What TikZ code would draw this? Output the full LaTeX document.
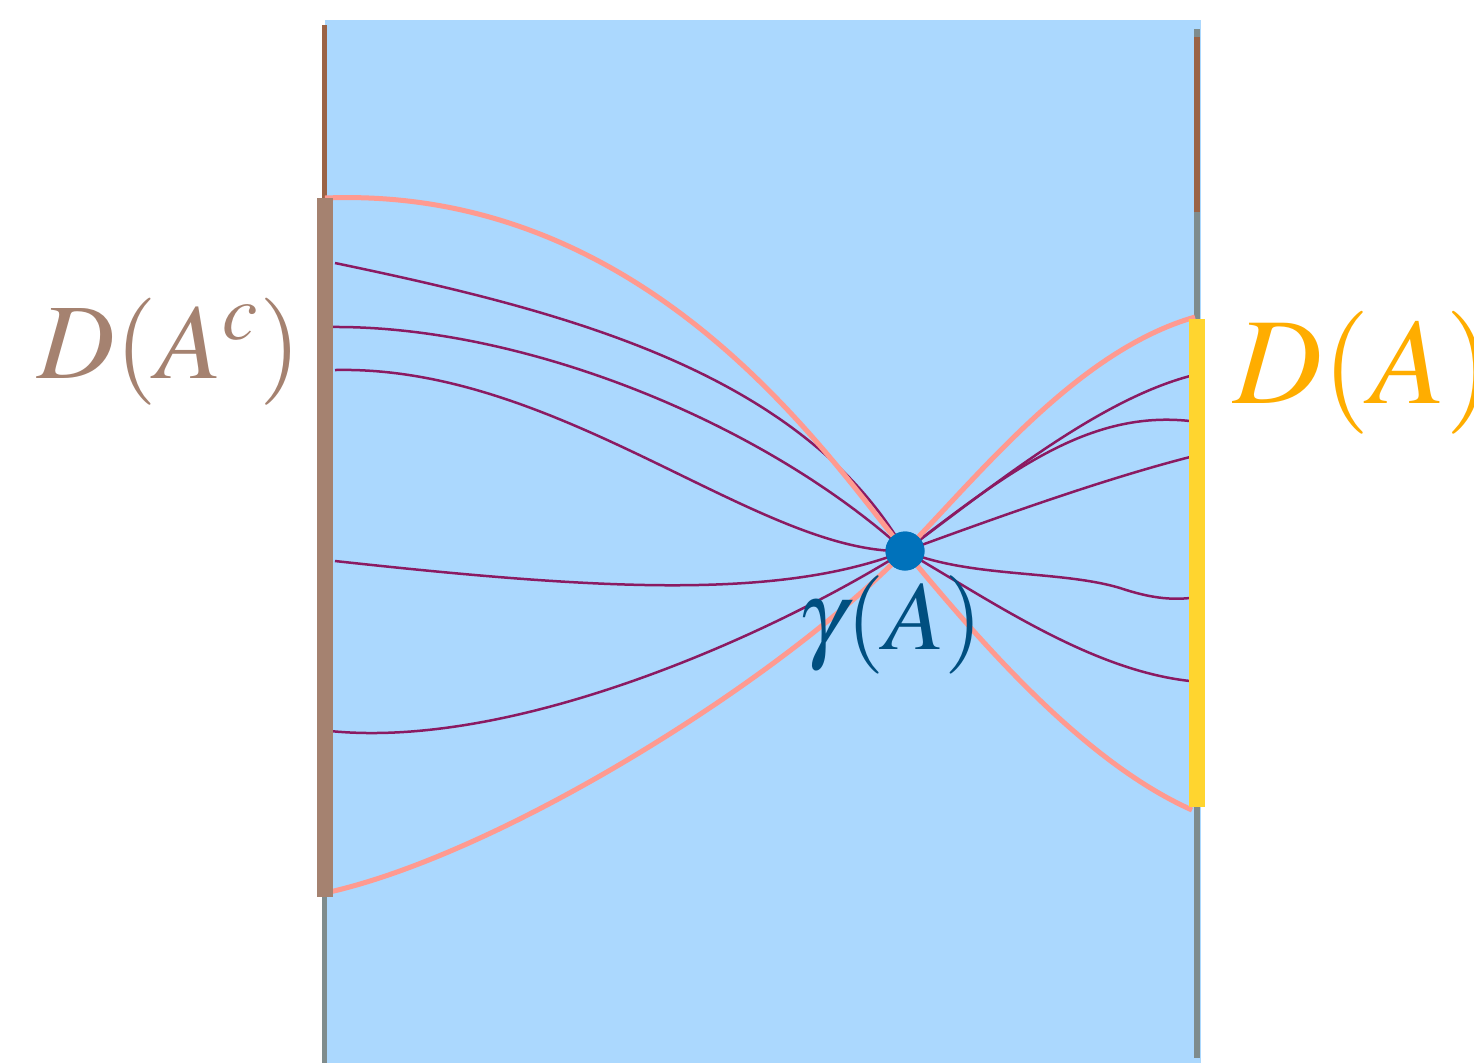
\documentclass[tikz,border=0pt]{standalone}
\usepackage{mathptmx}
\definecolor{FieldBlue}{HTML}{ABD8FE}
\definecolor{RimGrey}{HTML}{7F8C8D}
\definecolor{RimBrown}{HTML}{9B6345}
\definecolor{BarBrown}{HTML}{A58270}
\definecolor{BarYellow}{HTML}{FFD52F}
\definecolor{OuterPink}{HTML}{FF9A90}
\definecolor{InnerPurple}{HTML}{8B1A62}
\definecolor{DotBlue}{HTML}{0072BB}
\definecolor{LabelBlue}{HTML}{004F80}
\definecolor{LabelOrange}{HTML}{FFAD00}
\tikzset{
  rim/.style={line width=0.55mm, draw=RimGrey},
  rimtop/.style={line width=0.55mm, draw=RimBrown},
  dombar/.style={line width=1.6mm},
  outer/.style={line width=0.5mm, draw=OuterPink},
  inner/.style={line width=0.25mm, draw=InnerPurple},
  dot/.style={circle, fill=DotBlue, minimum size=3.9mm, inner sep=0pt},
  lab/.style={inner sep=0pt, anchor=base west},
}

\begin{document}
\begin{tikzpicture}[x=0.1mm, y=-0.1mm]
  \useasboundingbox (0,0) rectangle (1474,1063);
  \fill[FieldBlue] (325,20) rectangle (1201,1063);

  % rims of the strip
  \coordinate (lt) at (324.5,25);   \coordinate (lb) at (324.5,1063);
  \coordinate (rt) at (1197,29);    \coordinate (rb) at (1197,1058);
  \draw[rim] (lt) -- (lb);
  \draw[rim] (rt) -- (rb);
  \coordinate (lm) at (324.5,198);  \coordinate (rm) at (1197,212);
  \coordinate (rt2) at (1197,37);
  \draw[rimtop] (lt) -- (lm);
  \draw[rimtop] (rt2) -- (rm);

  \node[dot] (g) at (905,551) {};

  % end points on the two domains
  \coordinate (pa) at (325,198);   \coordinate (pb) at (1192,810);
  \coordinate (pc) at (325,893);   \coordinate (pd) at (1195,317);
  \coordinate (l1) at (335,263);   \coordinate (l2) at (330,327);
  \coordinate (l3) at (335,370);   \coordinate (l4) at (335,561);
  \coordinate (l5) at (330,731);
  \coordinate (r1) at (1190,376);  \coordinate (r2) at (1190,421);
  \coordinate (r3) at (1190,457);  \coordinate (r4) at (1190,598);
  \coordinate (r5) at (1190,681);

  % geodesics through gamma(A)
  \draw[inner] (l1) .. controls (560,310) and (800,370) .. (g.center);
  \draw[inner] (l2) .. controls (520,325) and (760,420) .. (g.center);
  \draw[inner] (l3) .. controls (560,365) and (760,555) .. (g.center);
  \draw[inner] (l4) .. controls (600,590) and (780,600) .. (g.center);
  \draw[inner] (l5) .. controls (520,750) and (780,630) .. (g.center);
  \draw[inner] (g.center) .. controls (1000,480) and (1100,400) .. (r1);
  \draw[inner] (g.center) .. controls (1010,470) and (1090,410) .. (r2);
  \draw[inner] (g.center) .. controls (990,520) and (1100,480) .. (r3);
  \draw[inner] (g.center) .. controls (970,578) and (1060,570) .. (1120,588)
    .. controls (1150,598) and (1170,600) .. (r4);
  \draw[inner] (g.center) .. controls (990,600) and (1090,670) .. (r5);

  \draw[outer] (pa) .. controls (650,185) and (830,460) .. (g.center)
    .. controls (975,635) and (1080,760) .. (pb);
  \draw[outer] (pc) .. controls (500,855) and (780,680) .. (g.center)
    .. controls (985,468) and (1080,350) .. (pd);

  \node[dot] at (g) {};

  % the two domains
  \coordinate (ds) at (325,198);  \coordinate (de) at (325,897);
  \coordinate (as) at (1197,319); \coordinate (ae) at (1197,807);
  \draw[dombar, BarBrown] (ds) -- (de);
  \draw[dombar, BarYellow] (as) -- (ae);

  \node[lab, text=BarBrown, font=\fontsize{30.5}{36}\selectfont] (dac) at (37,378) {$D(A^c)$};
  \node[lab, text=LabelOrange, font=\fontsize{35}{40}\selectfont] (da) at (1233,403) {$D(A)$};
  \node[lab, text=LabelBlue, font=\fontsize{28}{34}\selectfont] (ga) at (797,649) {$\gamma(A)$};
\end{tikzpicture}
\end{document}
